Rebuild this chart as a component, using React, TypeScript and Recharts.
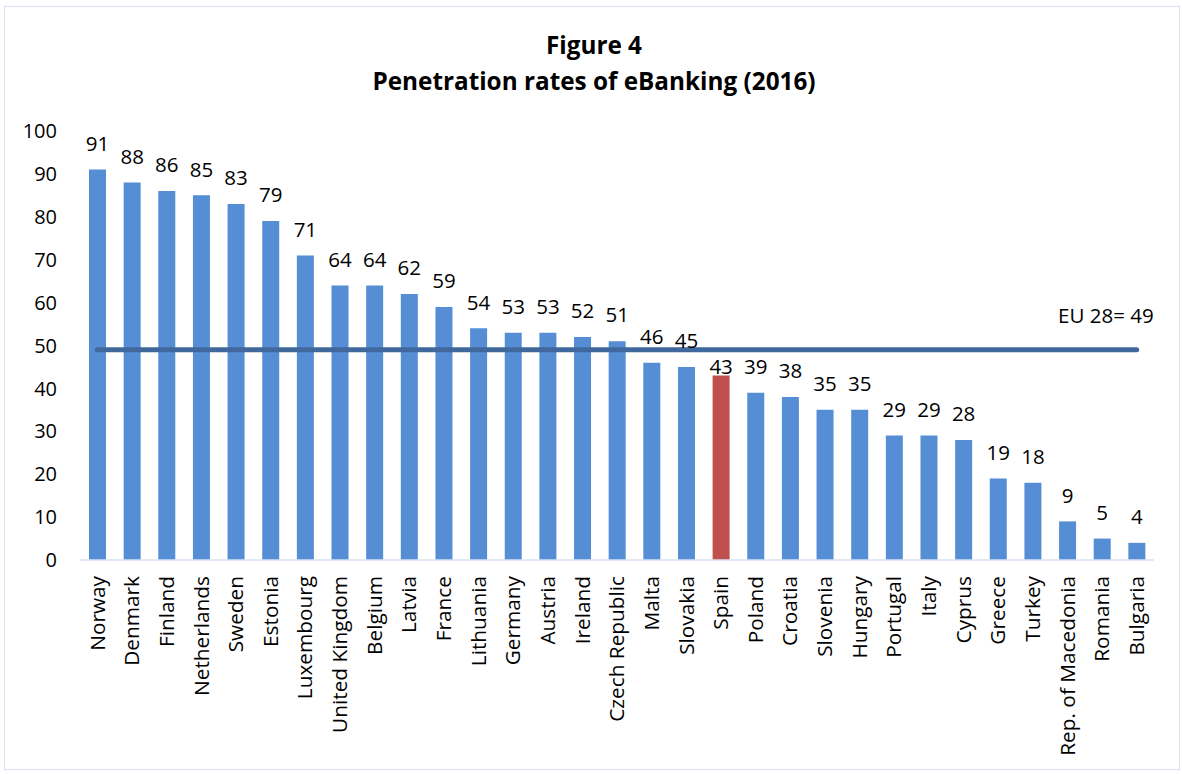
import React from 'react';
import { ComposedChart, Bar, XAxis, YAxis, Cell, LabelList, ReferenceLine } from 'recharts';

const countries = ['Norway','Denmark','Finland','Netherlands','Sweden','Estonia','Luxembourg','United Kingdom','Belgium','Latvia','France','Lithuania','Germany','Austria','Ireland','Czech Republic','Malta','Slovakia','Spain','Poland','Croatia','Slovenia','Hungary','Portugal','Italy','Cyprus','Greece','Turkey','Rep. of Macedonia','Romania','Bulgaria'];
const values = [91,88,86,85,83,79,71,64,64,62,59,54,53,53,52,51,46,45,43,39,38,35,35,29,29,28,19,18,9,5,4];
const highlighted = ['Spain'];
const euAverage = 49;
const euLabel = 'EU 28= 49';
const yTicks = [0,10,20,30,40,50,60,70,80,90,100];
const titleLines = ['Figure 4', 'Penetration rates of eBanking (2016)'];

const data = countries.map((c, i) => ({ country: c, value: values[i] }));

const FONT = '"Open Sans", sans-serif';

const XTick = (props: any) => {
  const { x, y, payload } = props;
  return (
    <text x={x} y={y} transform={`rotate(-90, ${x}, ${y})`} textAnchor="end" dy="0.35em" fontSize={20.8} fill="#000" fontFamily={FONT}>
      {payload.value}
    </text>
  );
};

const BarValueLabel = (props: any) => {
  const { x, y, width, value, index } = props;
  const isHi = highlighted.includes(countries[index]);
  const cy = Number(y) - (isHi ? 9 : 26);
  return (
    <text x={Number(x) + Number(width) / 2} y={cy} textAnchor="middle" dy="0.35em" fontSize={20.5} fill="#000" fontFamily={FONT}>
      {value}
    </text>
  );
};

const EuLabel = (props: any) => {
  const vb = props.viewBox || {};
  const xr = (vb.x || 0) + (vb.width || 0) + 17;
  const yy = (vb.y || 0) - 34;
  return (
    <text x={xr} y={yy} textAnchor="end" dy="0.35em" fontSize={20.5} fill="#000" fontFamily={FONT}>{euLabel}</text>
  );
};

export default function App() {
  return (
    <div style={{ position: 'absolute', left: 0, top: 0, width: 1182, height: 774, background: '#fff', fontFamily: FONT }}>
      <div style={{ position: 'absolute', left: 4, top: 6, width: 1176, height: 764, border: '1px solid #D9E1EE', boxSizing: 'border-box' }} />
      <div style={{ position: 'absolute', left: 0, top: 27, width: 1188, textAlign: 'center', fontWeight: 'bold', fontSize: 24.3, lineHeight: '36px', color: '#000' }}>
        {titleLines.map((t) => <div key={t}>{t}</div>)}
      </div>
      <div style={{ position: 'absolute', left: 0, top: 0 }}>
        <ComposedChart width={1182} height={774} data={data} margin={{ top: 131, right: 28, bottom: 0, left: 0 }} barCategoryGap="25%">
          <XAxis dataKey="country" interval={0} tick={<XTick />} tickLine={false} axisLine={{ stroke: '#D9E2F3', strokeWidth: 1.5 }} tickSize={0} tickMargin={16} height={214} />
          <YAxis domain={[0, 100]} ticks={yTicks} width={80} axisLine={false} tickLine={false} tickSize={0} tickMargin={23} tick={{ fontSize: 20, fill: '#000', fontFamily: FONT }} />
          <Bar dataKey="value" isAnimationActive={false} barSize={17}>
            {data.map((d) => (
              <Cell key={d.country} fill={highlighted.includes(d.country) ? '#C0504D' : '#558ED5'} />
            ))}
            <LabelList dataKey="value" content={<BarValueLabel />} />
          </Bar>
          <ReferenceLine
            segment={[{ x: countries[0], y: euAverage }, { x: countries[countries.length - 1], y: euAverage }]}
            stroke="#41689C"
            strokeWidth={5}
            strokeLinecap="round"
            ifOverflow="visible"
            label={<EuLabel />}
          />
        </ComposedChart>
      </div>
    </div>
  );
}
